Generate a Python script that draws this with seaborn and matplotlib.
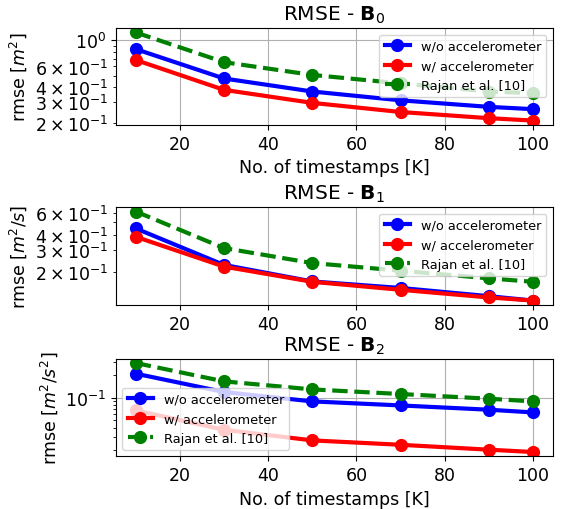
import numpy as np
import pandas as pd
import matplotlib
matplotlib.use("Agg")
import matplotlib.pyplot as plt
import seaborn as sns

# timestamps K
timestamps = [10, 30, 50, 70, 90, 100]

# B0 rmse [m^2]
b0_wo = [0.84, 0.475, 0.369, 0.311, 0.274, 0.262]
b0_w = [0.68, 0.381, 0.296, 0.248, 0.220, 0.210]
b0_rajan = [1.16, 0.652, 0.509, 0.432, 0.369, 0.357]

# B1 rmse [m^2/s]
b1_wo = [0.448, 0.229, 0.169, 0.150, 0.129, 0.119]
b1_w = [0.384, 0.222, 0.168, 0.145, 0.126, 0.119]
b1_rajan = [0.611, 0.312, 0.237, 0.206, 0.179, 0.168]

# B2 rmse [m^2/s^2]
b2_wo = [0.209, 0.119, 0.0893, 0.0789, 0.0692, 0.0637]
b2_w = [0.0678, 0.0374, 0.0270, 0.0236, 0.0203, 0.0189]
b2_rajan = [0.290, 0.165, 0.129, 0.112, 0.097, 0.0893]

labels = ["w/o accelerometer", "w/ accelerometer", "Rajan et al. [10]"]
colors = ["blue", "red", "green"]
styles = ["-", "-", "--"]

panels = [
    (r"RMSE - $\mathbf{B}_0$", r"rmse [$m^2$]", [b0_wo, b0_w, b0_rajan], "upper right", True),
    (r"RMSE - $\mathbf{B}_1$", r"rmse [$m^2/s$]", [b1_wo, b1_w, b1_rajan], "upper right", False),
    (r"RMSE - $\mathbf{B}_2$", r"rmse [$m^2/s^2$]", [b2_wo, b2_w, b2_rajan], "lower left", True),
]

fig, axes = plt.subplots(3, 1, figsize=(5.71, 5.10), dpi=100)
# axes boxes (left, bottom, width, height), laid out like constrained layout did
boxes = [(0.203, 0.753, 0.765, 0.190),
         (0.203, 0.400, 0.765, 0.192),
         (0.203, 0.103, 0.765, 0.192)]

for ax, box, (title, ylab, series, loc, show_xlabel) in zip(axes, boxes, panels):
    ax.set_position(box)
    for vals, lab, col, ls in zip(series, labels, colors, styles):
        df = pd.DataFrame({"K": timestamps, "rmse": vals})
        sns.lineplot(data=df, x="K", y="rmse", ax=ax, color=col, linestyle=ls,
                     linewidth=3, marker="o", markersize=9.5, markeredgecolor=col,
                     markeredgewidth=0, label=lab)
    ax.set_yscale("log")
    ax.set_title(title, fontsize=14.5)
    ax.set_ylabel(ylab, fontsize=12.5)
    ax.set_xlabel("No. of timestamps [K]" if show_xlabel else "", fontsize=12.5)
    ax.tick_params(axis="both", which="both", labelsize=12.5)
    ax.set_xticks([20, 40, 60, 80, 100])
    ax.grid(True)
    ax.legend(loc=loc, fontsize=9.3)

fig.savefig("out.png", dpi=100)
